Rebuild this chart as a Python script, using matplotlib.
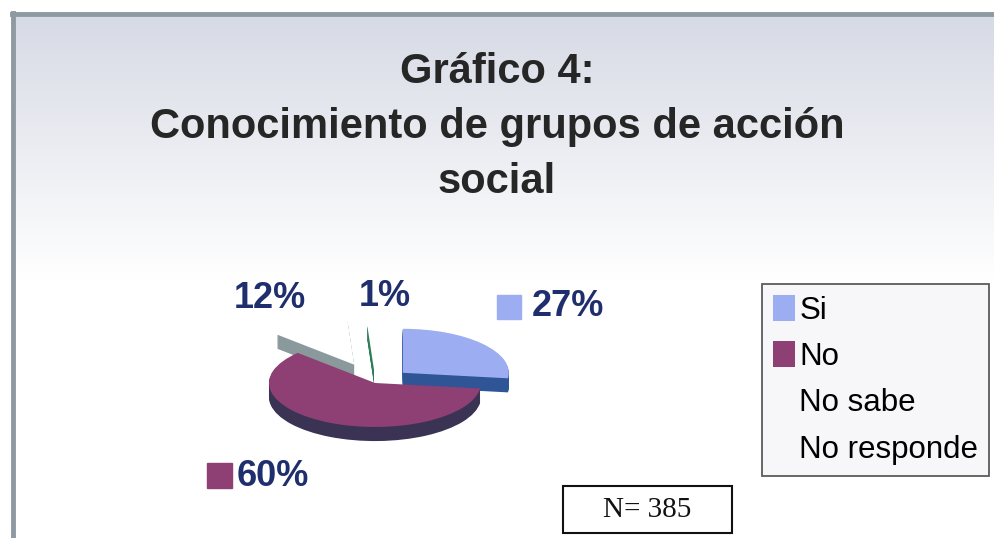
import numpy as np
import matplotlib
matplotlib.use("Agg")
import matplotlib.pyplot as plt
from matplotlib.patches import Rectangle, Patch

# ---- data ----
categories = ["Si", "No", "No sabe", "No responde"]
values = [27, 60, 12, 1]
title_lines = ["Gráfico 4:", "Conocimiento de grupos de acción", "social"]
sample_note = "N= 385"

# ---- styles ----
top_colors = ["#9DADF2", "#8E3F74", "#FFFFFF", "#FFFFFF"]
side_colors = ["#2F5597", "#3B3354", "#8A9A9C", "#2E7D5A"]
legend_colors = ["#9DADF2", "#8E3F74", "none", "none"]
explode = [0.35, 0.0, 0.46, 0.3]
label_color = "#1F2F6E"

W, H = 995, 538
fig = plt.figure(figsize=(W / 100, H / 100), dpi=100)

# background axes in pixel coordinates
bg = fig.add_axes([0, 0, 1, 1])
bg.set_xlim(0, W)
bg.set_ylim(H, 0)
bg.axis("off")
grad = np.linspace(0, 1, 300)[:, None]
top_rgb = np.array([0.84, 0.855, 0.895])
img = top_rgb[None, None, :] * (1 - grad[:, :, None]) + np.ones(3)[None, None, :] * grad[:, :, None]
bg.imshow(img, extent=(12, W, 280, 14), aspect="auto", zorder=0)
bg.add_patch(Rectangle((0, 0), W, 12, color="white", zorder=1))
bg.plot([12, W], [13.5, 13.5], color="#8E9AA2", lw=3.5, zorder=2)
bg.plot([12.5, 12.5], [13, H], color="#8E9AA2", lw=3.5, zorder=2)

# title
for i, line in enumerate(title_lines):
    bg.text(497, 72 + i * 55, line, ha="center", va="center", fontsize=30,
            fontweight="bold", color="#262626", family="Liberation Sans", zorder=3)

# ---- pseudo-3D pie ----
ax = fig.add_axes([200 / W, 1 - 480 / H, 400 / W, 220 / H])
depth = 0.32
n_layers = 18
offsets = np.linspace(-depth, 0, n_layers)
for k, off in enumerate(offsets):
    cols = side_colors if k < n_layers - 1 else top_colors
    ax.pie(values, colors=cols, explode=explode, startangle=90, counterclock=False,
           center=(0, off), radius=1.0, wedgeprops=dict(linewidth=0))
ax.set_aspect("auto")
ax.set_xlim(-1.651, 2.123)
ax.set_ylim(-2.205, 2.795)
ax.axis("off")

# percentage labels
pct = [f"{v}%" for v in values]
lab_kw = dict(fontsize=26, fontweight="bold", color=label_color,
              family="Liberation Sans", va="center", zorder=5)
bg.text(532, 307, pct[0], ha="left", **lab_kw)
bg.add_patch(Rectangle((497, 295), 24, 24, color=top_colors[0], zorder=5))
bg.text(237, 476, pct[1], ha="left", **lab_kw)
bg.add_patch(Rectangle((207, 463), 25, 25, color=top_colors[1], zorder=5))
bg.text(270, 299, pct[2], ha="center", **lab_kw)
bg.text(385, 296, pct[3], ha="center", **lab_kw)

# legend
handles = [Patch(facecolor=c, edgecolor="none") for c in legend_colors]
leg = fig.legend(handles, categories, loc="upper left",
                 bbox_to_anchor=(762 / W, 1 - 284 / H),
                 prop=dict(family="Liberation Sans", size=22.5),
                 frameon=True, fancybox=False, handlelength=0.7, handleheight=0.9,
                 handletextpad=0.15, labelspacing=0.5, borderpad=0.35,
                 borderaxespad=0)
fr = leg.get_frame()
fr.set_edgecolor("#333333")
fr.set_linewidth(1.3)
fr.set_facecolor("#F6F6F8")

# N box
bg.add_patch(Rectangle((563, 486), 169, 47, facecolor="white", edgecolor="#111111",
                       lw=1.5, zorder=5))
bg.text(647, 510, sample_note, ha="center", va="center", fontsize=21,
        family="Liberation Serif", color="#111111", zorder=6)

fig.savefig("out.png", dpi=100)
